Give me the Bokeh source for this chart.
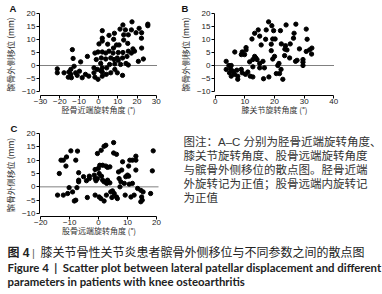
from bokeh.plotting import figure
from bokeh.models import Span, Range1d, FixedTicker
from bokeh.core.properties import value
from bokeh.layouts import row, column
from bokeh.embed import file_html
from bokeh.resources import INLINE

# ---- data ----
a_x = [17.4, 25.6, 25.6, 12.7, 2.0, 21.1, 11.2, 8.3, 5.5, 14.0, 17.1, 19.5, 22.3, 22.4, 13.1, 15.5,
       2.0, 0.3, 2.0, 7.9, 4.8, 9.4, 10.7, 7.8, 13.1, 15.2, 17.9, 22.4, -1.8, -0.2, 2.0, 3.8, 5.5,
       7.6, 10.3, 12.7, 15.5, 17.1, 18.7, -5.7, -13.5, -13.1, -9.2, -1.1, 1.5, 3.8, 6.4, 8.1, 9.8,
       12.5, 14.8, 10.3, 23.3, 20.7, 8.5, 5.8, 1.2, 2.0, -2.3, 11.5, 14.3, 15.5, 4.3, -0.6, -12.6,
       -14.3, -21.3, -21.3, -17.8, -15.3, -14.3, -15.6, -14.0, -11.8, -11.0, -9.8, -8.4, -6.7, -5.0,
       -2.3, -1.8, -0.2, 2.0, 2.0, 4.1, 6.4, 8.5, 9.8, 12.5, 1.2]
a_y = [16.8, 15.9, 15.3, 15.6, 13.4, 14.3, 14.0, 12.4, 11.6, 13.7, 13.7, 12.6, 10.5, 12.6, 11.8, 11.8,
       10.5, 8.3, 9.4, 10.1, 8.2, 7.9, 7.9, 6.7, 9.8, 8.5, 6.4, 6.7, 4.8, 5.2, 5.2, 4.8, 5.5,
       4.8, 5.0, 5.0, 5.5, 4.8, 5.5, 3.5, 6.1, 2.7, 1.4, 2.3, 2.9, 2.5, 2.9, 2.3, 2.9,
       2.9, 3.5, 2.0, 2.5, 1.6, 0.6, 0.4, 0.8, -0.9, -0.9, 0.4, 0.8, 0.2, -0.9, -1.5, -0.3,
       -1.5, -1.3, -2.8, -2.8, -2.5, -3.4, -4.5, -4.7, -2.8, -3.8, -2.2, -4.7, -3.4, -4.1,
       -2.8, -4.5, -5.3, -4.1, -2.5, -3.4, -2.8, -1.5, -2.8, -3.8, -2.0]

b_x = [18.0, 27.2, 23.9, 19.1, 19.7, 14.5, 13.3, 17.2, 22.0, 30.7, 12.4, 15.0, 17.0, 19.4, 20.2,
       15.5, 18.9, 22.3, 23.7, 25.3, 26.4, 26.6, 31.0, 28.4, 23.5, 24.2, 18.9, 31.8, 32.6, 30.7,
       6.6, 9.1, 10.4, 10.4, 8.8, 9.9, 13.3, 13.7, 12.7, 14.1, 16.1, 20.0, 19.4, 23.4, 25.1, 27.6,
       27.1, 29.6, 29.6, 32.5, 11.6, 15.0, 21.5, 21.1, 3.7, 4.6, 5.4, 3.7, 5.2, 4.8, 6.0, 5.4,
       6.5, 7.3, 7.6, 8.8, 9.1, 10.2, 11.0, 11.8, 12.7, 7.6, 16.3, 18.1, 20.6, 21.7, 22.8, 22.2,
       16.6, 15.0, 12.7, 29.6]
b_y = [16.8, 15.9, 15.6, 15.3, 13.4, 13.7, 12.4, 13.7, 13.4, 14.0, 10.2, 11.3, 10.1, 10.2, 10.2,
       7.9, 8.2, 8.3, 7.6, 8.3, 10.5, 12.4, 10.1, 6.4, 6.3, 6.0, 5.7, 6.0, 6.7, 5.4,
       5.2, 5.2, 6.9, 6.0, 4.2, 4.2, 3.5, 2.9, 2.3, 2.3, 1.6, 3.5, 2.5, 3.8, 2.9, 2.0,
       1.6, 2.3, 1.3, 4.4, 1.4, 0.8, 0.8, 0.0, 1.6, 0.0, 0.0, -1.5, -1.3, -2.8, -2.2, -4.1,
       -3.4, -1.8, -4.1, -1.5, -2.8, -3.4, -2.5, -4.1, -4.4, -5.3, -5.1, -4.4, -3.1, -3.1, -5.3, -1.5,
       -0.9, -0.9, -0.5, 0.0]

c_x = [5.2, 2.5, 1.9, -0.4, 0.9, 5.2, 6.2, -9.6, -7.3, -11.1, -13.0, -12.2, -7.9, -11.3, -13.6,
       -6.9, -6.9, -6.9, -10.2, -7.5, -14.2, -12.2, -10.7, -9.0, -8.4, -7.9, -3.9, -5.2, -3.2, -3.2,
       -4.2, -1.5, -1.2, -1.2, -0.9, 0.2, -0.1, 0.4, 1.4, 2.5, 1.0, -0.4, 1.4, 1.9, 3.1, 3.1, 3.9,
       2.8, 3.9, -1.2, 0.2, 0.8, 1.9, 2.7, 4.2, 4.8, 5.4, 4.6, 6.2, 6.5, 7.4, 7.7, 7.1, 6.9, 8.0,
       8.3, 9.4, 10.0, 10.4, 8.9, 10.6, 11.7, 10.4, 10.8, 12.9, 12.9, 12.9, 11.7, 9.2, 11.2, 12.3,
       13.5, 14.6, 15.4, 14.9, 15.1, 14.6, 18.0, 18.6, 18.9]
c_y = [16.6, 15.6, 15.2, 12.5, 13.7, 12.7, 12.2, 13.5, 13.4, 11.2, 10.0, 10.0, 10.0, 7.8, 5.0,
       5.3, 2.5, 1.9, -0.3, -0.3, -3.1, -3.1, -2.5, -1.9, -5.3, -5.0, -4.0, 3.8, 3.1, 4.0,
       2.3, 4.4, 6.5, 3.1, 2.3, 5.0, 6.9, 8.1, 8.1, 7.8, 4.0, 3.1, 2.5, 1.9, 2.5, 7.3, 7.5,
       1.3, 1.5, -3.1, -3.8, -4.4, -5.3, -3.1, -1.9, -1.5, -2.5, -4.0, -3.8, -4.4, 0.0, 1.9, 3.1, 5.6, 6.3,
       9.4, 3.8, 4.4, 4.0, 1.3, 1.0, 1.3, 7.8, 10.0, 10.0, 11.5, 6.3, 10.0, -3.1, -3.8, -3.1,
       -0.6, -1.3, -1.9, -3.8, -5.0, -5.6, -2.5, 6.0, 13.5]

y_ticks = [-10, -5, 0, 5, 10, 15, 20]
a_ticks = [-30, -20, -10, 0, 10, 20, 30]
b_ticks = [0, 10, 20, 30, 40]
c_ticks = [-20, -10, 0, 10, 20]

y_label = "髌骨外侧移位 (mm)"
a_label = "胫骨近端旋转角度 (°)"
b_label = "膝关节旋转角度 (°)"
c_label = "股骨远端旋转角度 (°)"

note_lines = ["图注：A–C 分别为胫骨近端旋转角度、",
              "膝关节旋转角度、股骨远端旋转角度",
              "与髌骨外侧移位的散点图。胫骨近端",
              "外旋转记为正值；股骨远端内旋转记",
              "为正值"]
cap_fig = "图 4"
cap_bar = "|"
cap_cn = "膝关节骨性关节炎患者髌骨外侧移位与不同参数之间的散点图"
cap_en = ["Figure 4\u00a0\u00a0|\u00a0\u00a0Scatter plot between lateral patellar displacement and different",
          "parameters in patients with knee osteoarthritis"]

CJK = "Noto Sans CJK SC"
MIX = "'Liberation Sans', 'Noto Sans CJK SC'"


def panel(xs, ys, fw, fh, xr, yr, xticks, xlabel, letter, loff, mb):
    p = figure(frame_width=fw, frame_height=fh,
               x_range=Range1d(*xr), y_range=Range1d(*yr),
               output_backend="svg", toolbar_location=None,
               min_border_left=mb[0], min_border_right=mb[1],
               min_border_top=mb[2], min_border_bottom=mb[3])
    p.width = mb[0] + fw + mb[1]
    p.height = mb[2] + fh + mb[3]
    p.grid.visible = False
    p.outline_line_color = None
    p.background_fill_color = "white"
    p.border_fill_color = "white"
    p.title.text = letter
    p.title.align = "left"
    p.title.offset = loff
    p.title.standoff = 0
    p.title.text_font = "Liberation Sans"
    p.title.text_font_size = "9.5px"
    p.title.text_font_style = "bold"
    p.title.text_color = "#111111"
    p.add_layout(Span(location=0, dimension="width", line_color="black",
                      line_width=1, line_dash="1 1"))
    p.scatter(xs, ys, size=4.3, color="black")
    p.xaxis.ticker = FixedTicker(ticks=xticks)
    p.yaxis.ticker = FixedTicker(ticks=y_ticks)
    p.xaxis.bounds = (xticks[0], xticks[-1])
    p.yaxis.bounds = (-10, 20)
    p.xaxis.axis_label = xlabel
    p.yaxis.axis_label = y_label
    for ax in (p.xaxis[0], p.yaxis[0]):
        ax.axis_line_color = "black"
        ax.axis_line_width = 1
        ax.major_tick_line_color = "black"
        ax.major_tick_out = 3
        ax.major_tick_in = 0
        ax.minor_tick_out = 0
        ax.minor_tick_in = 0
        ax.major_label_text_font = "Liberation Sans"
        ax.major_label_text_font_size = "8px"
        ax.major_label_text_color = "#222222"
        ax.axis_label_text_font = CJK
        ax.axis_label_text_font_style = "normal"
        ax.axis_label_text_color = "#333333"
    p.xaxis.major_label_standoff = 0
    p.yaxis.major_label_standoff = 1
    p.xaxis.axis_label_text_font_size = "8px"
    p.xaxis.axis_label_standoff = -3
    p.yaxis.axis_label_text_font_size = "8.5px"
    p.yaxis.axis_label_standoff = 3
    return p


def text_fig(w, h, top, bottom):
    # a plain text area; its frame is given the same borders as its row neighbour,
    # and its y range is expressed in pixel rows measured from the top of the area
    p = figure(frame_width=w, frame_height=h - top - bottom,
               x_range=Range1d(0, w), y_range=Range1d(h - bottom, top),
               x_axis_location=None, y_axis_location=None, title=None,
               output_backend="svg", toolbar_location=None,
               min_border_left=0, min_border_right=0,
               min_border_top=top, min_border_bottom=bottom)
    p.width = w
    p.height = h
    p.grid.visible = False
    p.outline_line_color = None
    p.background_fill_color = "white"
    p.border_fill_color = "white"
    return p


# top row: 118 px tall; second row: 122 px tall; caption: 54 px
pa = panel(a_x, a_y, 118, 82, (-30.52, 30.62), (-11.54, 20.01), a_ticks, a_label,
           "A", -30, (39, 18, 12, 24))
pb = panel(b_x, b_y, 120, 82, (-0.24, 40.23), (-11.54, 20.01), b_ticks, b_label,
           "B", -33, (35, 52, 12, 24))
pc = panel(c_x, c_y, 119, 83, (-20.45, 20.73), (-11.12, 20.01), c_ticks, c_label,
           "C", -29, (38, 13, 14, 25))

pn = text_fig(212, 122, 14, 25)
pn.text(x=[12] * len(note_lines), y=[22 + 14.2 * i for i in range(len(note_lines))],
        text=note_lines, text_font=value(MIX), text_font_size=value("11.5px"),
        text_color="#333333", text_baseline="middle", text_align="left")

pcap = text_fig(382, 54, 0, 0)
pcap.text(x=[7], y=[11], text=[cap_fig], text_font=value(MIX), text_font_size=value("12px"),
          text_font_style="bold", text_color="#222222", text_baseline="middle", text_align="left")
pcap.text(x=[33], y=[11], text=[cap_bar], text_font=value("Liberation Sans"),
          text_font_size=value("11px"), text_color="#666666", text_baseline="middle",
          text_align="center")
pcap.text(x=[40], y=[11], text=[cap_cn], text_font=value(MIX), text_font_size=value("12px"),
          text_color="#222222", text_baseline="middle", text_align="left")
pcap.text(x=[7, 7], y=[26, 39.5], text=cap_en, text_font=value("Lato"),
          text_font_size=value("11.4px"), text_font_style="bold", text_color="#222222",
          text_baseline="middle", text_align="left")

layout = column(row(pa, pb), row(pc, pn), pcap)

open("out.html", "w").write(file_html(layout, INLINE))
